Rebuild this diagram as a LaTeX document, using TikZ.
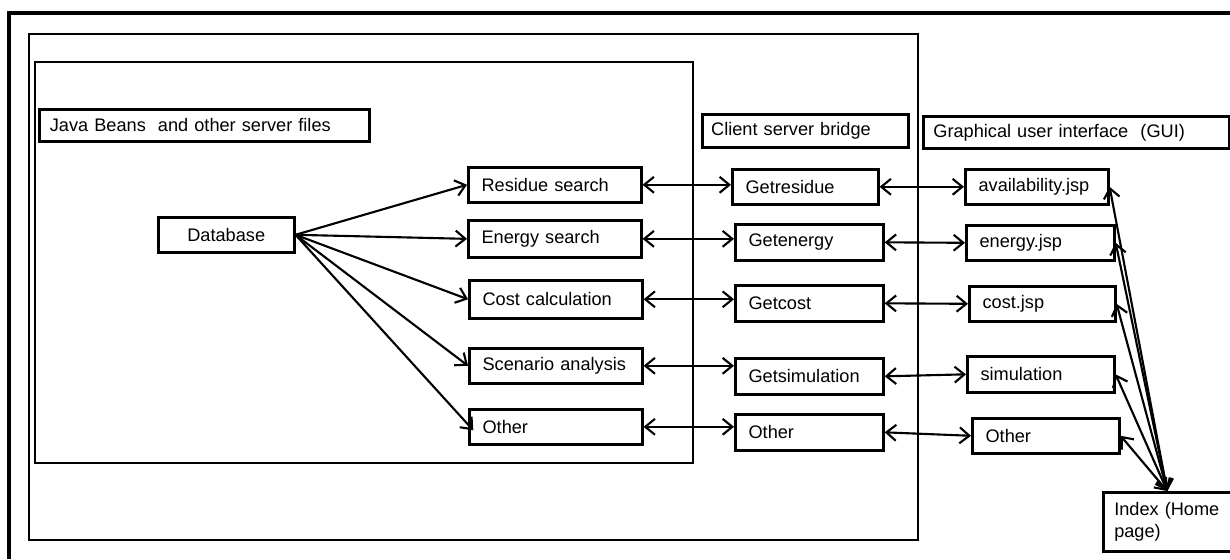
\documentclass[tikz,border=0pt]{standalone}
\usepackage{fontspec}
\setmainfont{Liberation Sans}
\usetikzlibrary{arrows.meta}

\tikzset{
  box/.style={draw, line width=1.5pt, anchor=north west, align=left,
    inner xsep=7.5pt, inner ysep=0pt, minimum height=19.8pt,
    font=\fontsize{10.3}{12.8}\selectfont},
  frame/.style={line width=1.3pt},
  link/.style={line width=1.2pt}
}

\begin{document}
\begin{tikzpicture}[x=0.5667pt, y=-0.5667pt, >={Straight Barb[length=5.5pt,width=9pt]}]
    \useasboundingbox (0,0) rectangle (1230,559);
    % frames
    \draw[line width=1.9pt] (1230,13) -| (9,559);
    \draw[frame] (29,34) rectangle (918,540);
    \draw[frame] (35,62) rectangle (693,463);
    % server files
    \node[box, inner xsep=6pt, text width=175pt, minimum height=18.2pt] (beans) at (38,108) {Java Beans\ \ and other server files};
    \node[box, align=center, text width=62pt] (db) at (157,216) {Database};
    \node[box, text width=83pt] (res) at (467,166) {Residue search};
    \node[box, text width=83pt, minimum height=21pt] (ene) at (467,219) {Energy search};
    \node[box, text width=83pt, minimum height=21.5pt] (cst) at (468,279) {Cost calculation};
    \node[box, text width=83pt] (scn) at (468,347) {Scenario analysis};
    \node[box, text width=83pt] (oth1) at (468,408) {Other};
    % client server bridge
    \node[box, inner xsep=5pt, text width=106.7pt, minimum height=18.7pt] (bridge) at (701,113) {Client server bridge};
    \node[box, text width=67.7pt] (gres) at (731,168) {Getresidue};
    \node[box, text width=68.9pt, minimum height=20.4pt] (gene) at (734,223) {Getenergy};
    \node[box, text width=68.9pt, minimum height=20.4pt] (gcst) at (734,284) {Getcost};
    \node[box, text width=68.9pt, minimum height=20.4pt] (gsim) at (734,357) {Getsimulation};
    \node[box, text width=68.9pt, minimum height=20.4pt] (goth) at (734,413) {Other};
    % GUI
    \node[box, inner xsep=5.7pt, text width=162pt, minimum height=18.2pt] (gui) at (922,115) {Graphical user interface\ \ (GUI)};
    \node[box, text width=66pt] (avl) at (964,168) {availability.jsp};
    \node[box, text width=68.9pt] (ejsp) at (965,224) {energy.jsp};
    \node[box, text width=67.7pt] (cjsp) at (968,285) {cost.jsp};
    \node[box, text width=68.3pt, minimum height=20.4pt] (sim) at (966,355) {simulation};
    \node[box, text width=68.3pt] (oth3) at (971,417) {Other};
    \node[box, inner xsep=6.2pt, text width=60pt, minimum height=33.4pt] (idx) at (1102,491) {Index (Home\\page)};
    % database to beans
    \draw[link,->] (db.east) -- (res.west);
    \draw[link,->] (db.east) -- (ene.west);
    \draw[link,->] (db.east) -- (cst.west);
    \draw[link,->] (db.east) -- (scn.west);
    \draw[link,->] (db.east) -- ([xshift=3pt,yshift=-2pt]oth1.west);
    % beans to bridge
    \draw[link,<->] (res.east) -- (res.east -| gres.west);
    \draw[link,<->] (ene.east) -- (ene.east -| gene.west);
    \draw[link,<->] (cst.east) -- (cst.east -| gcst.west);
    \draw[link,<->] (scn.east) -- (scn.east -| gsim.west);
    \draw[link,<->] (oth1.east) -- (oth1.east -| goth.west);
    % bridge to GUI
    \draw[link,<->] (gres.east) -- (avl.west);
    \draw[link,<->] (gene.east) -- (ejsp.west);
    \draw[link,<->] (gcst.east) -- (cjsp.west);
    \draw[link,<->] (gsim.east) -- (sim.west);
    \draw[link,<->] (goth.east) -- (oth3.west);
    % GUI to index
    \draw[link,<->] (avl.east) -- (idx.north);
    \draw[link,<->] (ejsp.east) -- (idx.north);
    \draw[link,<->] (cjsp.east) -- (idx.north);
    \draw[link,<->] (sim.east) -- (idx.north);
    \draw[link,<->] (oth3.east) -- (idx.north);
\end{tikzpicture}
\end{document}
